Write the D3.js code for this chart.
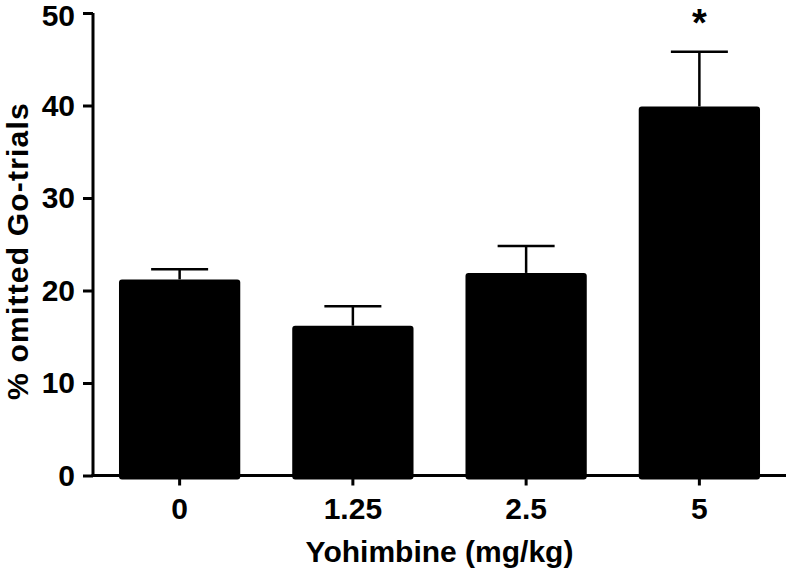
<!DOCTYPE html>
<html><head><meta charset="utf-8">
<script src="https://cdn.jsdelivr.net/npm/d3@7/dist/d3.min.js"></script>
<style>body{margin:0;background:#fff}svg{display:block}text{font-family:"Liberation Sans",Arial,sans-serif;font-weight:bold}</style>
</head><body>
<script>
const categories = ["0", "1.25", "2.5", "5"];
const means = [21.2, 16.2, 21.9, 39.9];
const sems = [1.1, 2.1, 2.9, 5.9];
const significance = ["", "", "", "*"];
const yTicks = [0, 10, 20, 30, 40, 50];

const W = 788, H = 571;
const m = {left: 93, right: 2, top: 13, bottom: 96};
const svg = d3.select("body").append("svg").attr("width", W).attr("height", H);

const x = d3.scaleBand().domain(categories).range([m.left, W - m.right]).paddingInner(0.3).paddingOuter(0.15);
const y = d3.scaleLinear().domain([0, 50]).range([H - m.bottom + 0.5, m.top]);

// bars
svg.selectAll("rect.bar").data(means).join("rect").attr("class", "bar")
  .attr("x", (d, i) => x(categories[i]))
  .attr("width", x.bandwidth())
  .attr("y", d => y(d))
  .attr("height", d => y(0) - y(d) + 4)
  .attr("rx", 3).attr("fill", "#000");

// error bars
const capW = 57;
const eb = svg.append("g").attr("stroke", "#000").attr("stroke-width", 2.5);
means.forEach((v, i) => {
  const cx = x(categories[i]) + x.bandwidth() / 2;
  eb.append("line").attr("x1", cx).attr("x2", cx).attr("y1", y(v)).attr("y2", y(v + sems[i]));
  eb.append("line").attr("x1", cx - capW / 2).attr("x2", cx + capW / 2).attr("y1", y(v + sems[i])).attr("y2", y(v + sems[i]));
});

// significance
svg.selectAll("text.sig").data(significance).join("text").attr("class", "sig")
  .attr("x", (d, i) => x(categories[i]) + x.bandwidth() / 2)
  .attr("y", (d, i) => y(means[i] + sems[i]) - 16)
  .attr("text-anchor", "middle").attr("font-size", 38).text(d => d);

// y axis
const yAxis = svg.append("g").attr("transform", `translate(${m.left},0)`)
  .call(d3.axisLeft(y).tickValues(yTicks).tickSize(10).tickPadding(8).tickSizeOuter(0));
// x axis
const xAxis = svg.append("g").attr("transform", `translate(0,${y(0)})`)
  .call(d3.axisBottom(x).tickSize(10).tickPadding(12).tickSizeOuter(0));
[yAxis, xAxis].forEach(g => {
  g.select(".domain").attr("stroke", "#000").attr("stroke-width", 3);
  g.selectAll(".tick line").attr("stroke", "#000").attr("stroke-width", 3);
  g.selectAll(".tick text").attr("fill", "#000").attr("font-size", 30).attr("font-family", '"Liberation Sans",Arial,sans-serif').attr("font-weight", "bold");
});
yAxis.select(".tick:last-of-type text").attr("dy", "0.4em");
yAxis.select(".domain").attr("d", `M0,${y(50)}V${y(0) + 1.5}`);
xAxis.select(".domain").attr("d", `M${m.left - 1.5},0H${W - m.right}`);

// axis titles
svg.append("text").attr("x", (m.left + W - m.right) / 2).attr("y", 562)
  .attr("text-anchor", "middle").attr("font-size", 30).text("Yohimbine (mg/kg)");
svg.append("text").attr("transform", `translate(28,251) rotate(-90)`)
  .attr("text-anchor", "middle").attr("font-size", 30).attr("letter-spacing", 1.2).text("% omitted Go-trials");
</script>
</body></html>
